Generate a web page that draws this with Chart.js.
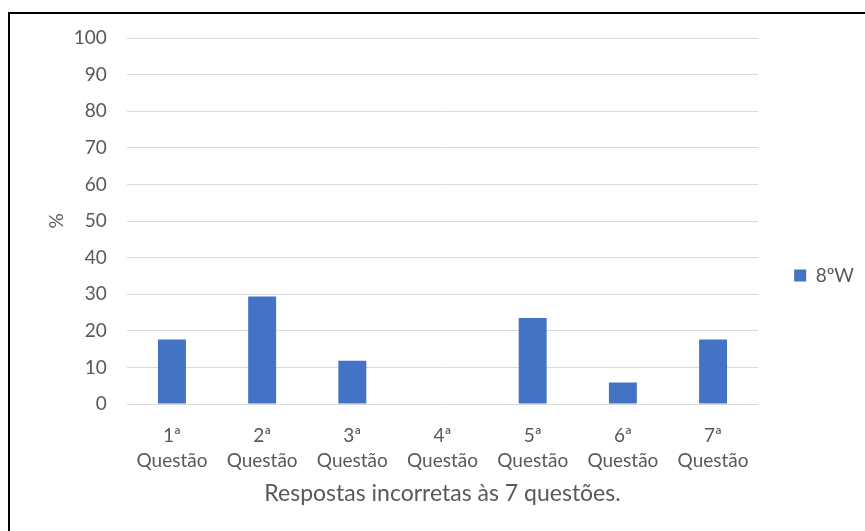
<!DOCTYPE html>
<html>
<head>
<meta charset="utf-8">
<script src="https://cdn.jsdelivr.net/npm/chart.js@4.4.1/dist/chart.umd.min.js"></script>
<style>
  html, body { margin: 0; padding: 0; background: #fff; overflow: hidden; }
  #wrap { position: absolute; left: 0; top: 0; width: 865px; height: 531px; }
  #frame { position: absolute; left: 8px; top: 12px; width: 900px; height: 600px;
           border-left: 2px solid #000; border-top: 2px solid #000; box-sizing: border-box; }
  canvas { position: absolute; left: 0; top: 0; }
</style>
</head>
<body>
<div id="wrap">
  <div id="frame"></div>
  <canvas id="c" width="865" height="531"></canvas>
</div>
<script>
const categories = [
  ['1ª', 'Questão'], ['2ª', 'Questão'], ['3ª', 'Questão'], ['4ª', 'Questão'],
  ['5ª', 'Questão'], ['6ª', 'Questão'], ['7ª', 'Questão']
];
const seriesName = '8ºW';
const values = [17.6, 29.4, 11.8, 0, 23.5, 5.9, 17.6];
const yTicks = [0, 10, 20, 30, 40, 50, 60, 70, 80, 90, 100];
const xTitle = 'Respostas incorretas às 7 questões.';
const yTitle = '%';

const FONT = 'Lato, "Noto Sans", sans-serif';
const TXT = '#595959';

new Chart(document.getElementById('c'), {
  type: 'bar',
  data: {
    labels: categories,
    datasets: [{
      label: seriesName,
      data: values,
      backgroundColor: '#4472C4',
      borderWidth: 0,
      barPercentage: 0.31,
      categoryPercentage: 1.0
    }]
  },
  options: {
    responsive: false,
    animation: false,
    devicePixelRatio: 1,
    layout: { padding: { left: 45, right: 1, top: 38, bottom: 24 } },
    plugins: {
      tooltip: { enabled: false },
      legend: {
        position: 'right',
        title: { display: true, text: ' ', font: { size: 1 }, padding: { top: 5, bottom: 0 } },
        labels: {
          boxWidth: 12, boxHeight: 12, padding: 36,
          color: TXT, font: { family: FONT, size: 19 }
        }
      }
    },
    scales: {
      x: {
        grid: { display: false },
        border: { display: false },
        ticks: { color: TXT, font: { family: FONT, size: 19, lineHeight: 1.3 }, padding: 12, maxRotation: 0, autoSkip: false },
        title: { display: true, text: xTitle, color: TXT, font: { family: FONT, size: 23 }, padding: { top: -6, bottom: 0 } }
      },
      y: {
        min: 0, max: 100,
        afterBuildTicks: (axis) => { axis.ticks = yTicks.map(v => ({ value: v })); },
        grid: { color: '#d9d9d9', lineWidth: 1, drawTicks: false },
        border: { display: false },
        ticks: { color: TXT, font: { family: FONT, size: 19 }, padding: 20 },
        title: { display: true, text: yTitle, color: TXT, font: { family: FONT, size: 19 }, padding: { top: 0, bottom: -14 } }
      }
    }
  }
});
</script>
</body>
</html>
